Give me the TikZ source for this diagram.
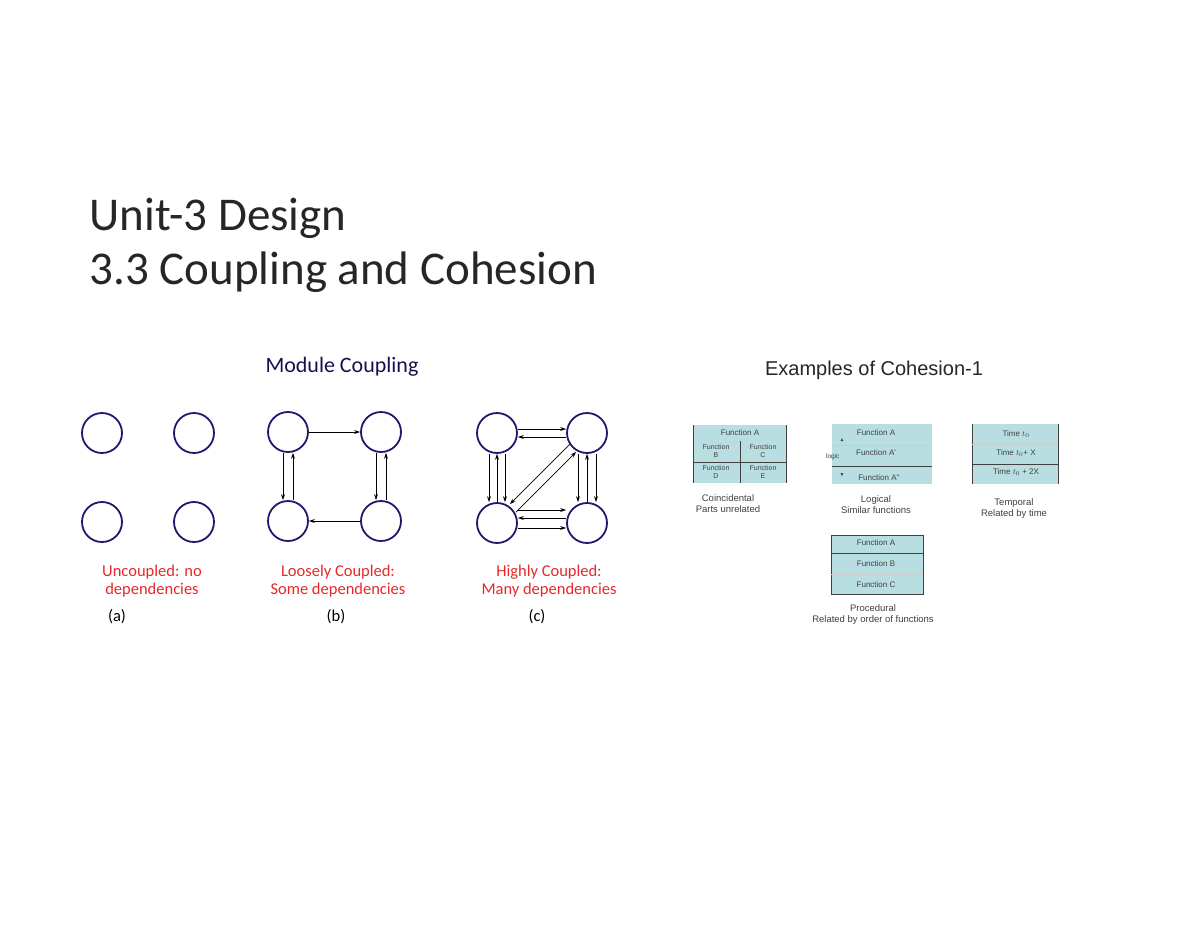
\documentclass[tikz,border=0pt]{standalone}
\usepackage{fontspec}
\usepackage{amssymb}
\setmainfont{Carlito}
\newfontfamily\arial{Liberation Sans}
\usetikzlibrary{arrows.meta}
\definecolor{cblue}{RGB}{40,20,110}
\definecolor{cred}{RGB}{230,40,40}
\definecolor{tbl}{RGB}{185,222,226}
\begin{document}
\begin{tikzpicture}[x=1pt,y=-1pt,
  mod/.style={circle,draw=cblue,line width=1.8pt,minimum size=40pt,inner sep=0},
  ar/.style={-{Stealth[length=6pt,width=4pt]},line width=0.7pt},
  lbl/.style={text=cred,font=\fontsize{16.5}{18}\selectfont,align=center},
  subcap/.style={font=\fontsize{16.5}{18}\selectfont},
  ct/.style={font=\arial\fontsize{8}{9}\selectfont,text=black!75,align=center},
  cl/.style={font=\arial\fontsize{9.5}{11}\selectfont,text=black!75,align=center}]
\useasboundingbox (0,0) rectangle (1200,927);
\node[anchor=west,font=\fontsize{47}{52}\selectfont,text=black!85] (t1) at (86,218) {Unit-3 Design};
\node[anchor=west,font=\fontsize{47}{52}\selectfont,text=black!85] (t2) at (86,272) {3.3 Coupling and Cohesion};
\node[font=\fontsize{22}{24}\selectfont,text=cblue!70!black] (mc) at (342,367) {Module Coupling};
% (a)
\node[mod] (a1) at (102,433) {}; \node[mod] (a2) at (194,433) {};
\node[mod] (a3) at (102,522) {}; \node[mod] (a4) at (194,522) {};
\node[lbl] (la) at (152,581) {Uncoupled: no\\dependencies};
\node[subcap] (ca) at (117,617) {(a)};
% (b)
\node[mod] (b1) at (288,432) {}; \node[mod] (b2) at (381,432) {};
\node[mod] (b3) at (288,521) {}; \node[mod] (b4) at (381,521) {};
\draw[ar] (b1.east) -- (b2.west);
\draw[ar] (b4.west) -- (b3.east);
\draw[ar] ([xshift=-5pt]b1.south) -- ([xshift=-5pt]b3.north);
\draw[ar] ([xshift=5pt]b3.north) -- ([xshift=5pt]b1.south);
\draw[ar] ([xshift=-5pt]b2.south) -- ([xshift=-5pt]b4.north);
\draw[ar] ([xshift=5pt]b4.north) -- ([xshift=5pt]b2.south);
\node[lbl] (lb) at (338,581) {Loosely Coupled:\\Some dependencies};
\node[subcap] (cb) at (336,617) {(b)};
% (c)
\node[mod] (c1) at (497,433) {}; \node[mod] (c2) at (587,433) {};
\node[mod] (c3) at (497,523) {}; \node[mod] (c4) at (587,523) {};
\draw[ar] ([yshift=-4pt]c2.west) -- ([yshift=-4pt]c1.east);
\draw[ar] ([yshift=4pt]c1.east) -- ([yshift=4pt]c2.west);
\draw[ar] ([yshift=-5pt]c3.east) -- ([yshift=-5pt]c4.west);
\draw[ar] ([yshift=5pt]c4.west) -- ([yshift=5pt]c3.east);
\draw[ar] ([yshift=13pt]c3.east) -- ([yshift=13pt]c4.west);
\draw[ar] ([xshift=-8pt]c1.south) -- ([xshift=-8pt]c3.north);
\draw[ar] ([xshift=8pt]c1.south) -- ([xshift=8pt]c3.north);
\draw[ar] (c3.north) -- (c1.south);
\draw[ar] ([xshift=-9pt]c2.south) -- ([xshift=-9pt]c4.north);
\draw[ar] ([xshift=9pt]c2.south) -- ([xshift=9pt]c4.north);
\draw[ar] (c4.north) -- (c2.south);
\draw[ar] ([shift={(4pt,-4pt)}]c3.north east) -- ([shift={(4pt,-4pt)}]c2.south west);
\draw[ar] ([shift={(-2pt,4pt)}]c2.south west) -- ([shift={(-2pt,4pt)}]c3.north east);
\node[lbl] (lc) at (549,581) {Highly Coupled:\\Many dependencies};
\node[subcap] (cc) at (537,617) {(c)};
% Cohesion
\node[font=\arial\fontsize{20}{22}\selectfont,text=black!85] (ec) at (874,370) {Examples of Cohesion-1};
% coincidental
\fill[tbl] (693,425) rectangle (786,483);
\draw[black!75] (693,425) -- (693,483) (786,425) -- (786,483) (740,441) -- (740,483) (693,462) -- (786,462);
\node[ct] (co1) at (740,433) {Function A};
\node[ct,font=\arial\fontsize{7}{7.5}\selectfont] (co2) at (716,451) {Function\\B};
\node[ct,font=\arial\fontsize{7}{7.5}\selectfont] (co3) at (763,451) {Function\\C};
\node[ct,font=\arial\fontsize{7}{7.5}\selectfont] (co4) at (716,472) {Function\\D};
\node[ct,font=\arial\fontsize{7}{7.5}\selectfont] (co5) at (763,472) {Function\\E};
\node[cl] (coc) at (728,504) {Coincidental\\Parts unrelated};
% logical
\fill[tbl] (832,424) rectangle (932,484);
\draw[black!75] (832,466) -- (932,466);
\draw[black!20] (832,445) -- (932,445);
\node[ct] (lo1) at (876,433) {Function A};
\node[ct] (lo2) at (876,453) {Function A'};
\node[ct] (lo3) at (879,478) {Function A''};
\node[ct,font=\arial\fontsize{6.5}{7}\selectfont,anchor=east] (lg) at (843,457) {logic};
\node[ct,font=\fontsize{5}{5}\selectfont] (up) at (842,440) {$\blacktriangle$};
\node[ct,font=\fontsize{5}{5}\selectfont] (dn) at (842,475) {$\blacktriangledown$};
\node[cl] (loc) at (876,505) {Logical\\Similar functions};
% temporal
\fill[tbl] (972,424) rectangle (1058,484);
\draw[black!75] (972,424) -- (972,484) (1058,424) -- (1058,484) (972,464) -- (1058,464);
\draw[black!20] (972,444) -- (1058,444);
\node[ct] (te1) at (1016,434) {Time $t_0$};
\node[ct] (te2) at (1016,453) {Time $t_0$+ X};
\node[ct] (te3) at (1016,472) {Time $t_0$ + 2X};
\node[cl] (tec) at (1014,509) {Temporal\\Related by time};
% procedural
\fill[tbl] (831,535) rectangle (923,594);
\draw[black!75] (831,535) rectangle (923,594) (831,553) -- (923,553);
\draw[black!20] (831,574) -- (923,574);
\node[ct] (pr1) at (876,543) {Function A};
\node[ct] (pr2) at (876,564) {Function B};
\node[ct] (pr3) at (876,585) {Function C};
\node[cl] (prc) at (873,615) {Procedural\\Related by order of functions};
\end{tikzpicture}
\end{document}
